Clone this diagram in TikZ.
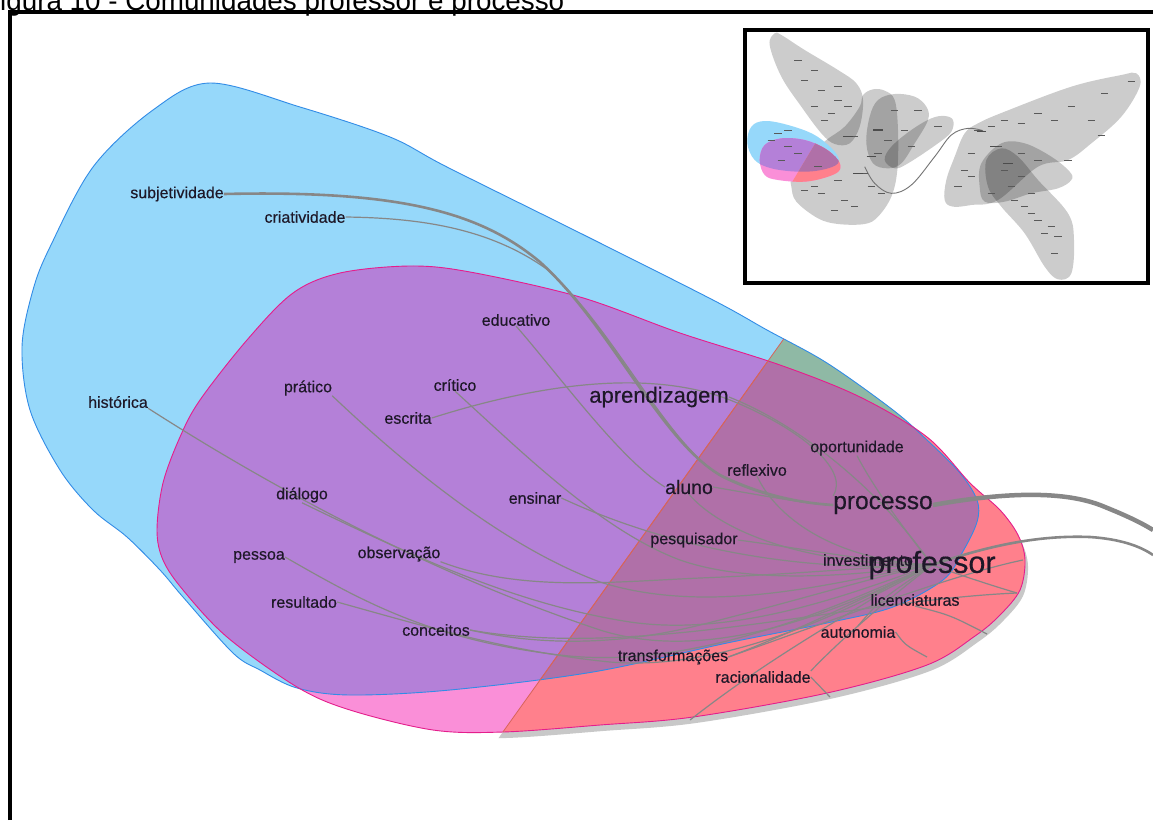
\documentclass[tikz,border=0pt]{standalone}
\usepackage{fontspec}
\setmainfont{Liberation Sans}
\newfontfamily\lblfont[FakeBold=0.4]{Liberation Sans}
\usetikzlibrary{calc}
\pgfdeclarelayer{bg}
\pgfdeclarelayer{edgelayer}
\pgfsetlayers{bg,edgelayer,main}
\definecolor{bluef}{RGB}{150,216,250}
\definecolor{pinkf}{RGB}{250,143,216}
\definecolor{purpf}{RGB}{180,128,216}
\definecolor{redf}{RGB}{255,128,140}
\definecolor{mauvef}{RGB}{176,112,168}
\definecolor{greenf}{RGB}{143,185,165}
\definecolor{bluel}{RGB}{50,140,230}
\definecolor{pinkl}{RGB}{228,30,140}
\definecolor{redl}{RGB}{215,100,90}
\definecolor{edgec}{RGB}{135,135,135}
\definecolor{txtc}{RGB}{30,24,40}
\definecolor{shadowc}{RGB}{200,200,200}
\def\pathB{plot[smooth cycle,tension=0.55] coordinates{(210,83) (300,107) (390,137) (447,167) (580,233) (713,300) (767,330) (827,363) (893,410) (927,440) (960,473) (977,500) (977,522) (962,553) (943,580) (893,607) (827,623) (727,643) (593,672) (450,690) (350,695) (297,688) (260,670) (233,653) (183,597) (160,570) (127,537) (93,510) (60,470) (30,410) (22,347) (33,290) (50,247) (93,167) (153,110)}}
\def\pathP{plot[smooth cycle,tension=0.55] coordinates{(410,266) (470,272) (580,297) (680,333) (780,365) (860,397) (927,437) (970,483) (1000,510) (1018,535) (1025,560) (1020,590) (1000,615) (975,636) (927,665) (827,693) (693,717) (600,725) (503,732) (433,730) (350,710) (297,687) (227,637) (183,590) (163,560) (157,530) (163,483) (180,437) (200,400) (247,340) (293,293) (340,273)}}
\def\halfplane{(440,820)--(923,144)--(1153,144)--(1153,820)--cycle}
\begin{document}
\begin{tikzpicture}[x=1pt,y=-1pt,
  lbl/.style={inner sep=0pt,text=txtc,font=\lblfont\fontsize{16}{18}\selectfont},
  lblA/.style={lbl,font=\lblfont\fontsize{22}{24}\selectfont},
  lblB/.style={lbl,font=\lblfont\fontsize{19.5}{22}\selectfont},
  lblP/.style={lbl,font=\lblfont\fontsize{24.5}{27}\selectfont},
  lblQ/.style={lbl,font=\lblfont\fontsize{30.5}{33}\selectfont},
  edg/.style={draw=edgec,line width=1.2pt},
  edgmid/.style={draw=edgec,line width=2.6pt},
  edgthick/.style={draw=edgec,line width=4.5pt},
  framel/.style={line width=4pt,draw=black},
  blob/.style={fill=black,fill opacity=0.2},
  wordmark/.style={draw=black!65,line width=0.7pt}
]
\useasboundingbox (0,0) rectangle (1153,820);

% ---------- community shapes ----------
\begin{pgfonlayer}{bg}
\fill[white] (0,0) rectangle (1153,820);
\begin{scope}
  \clip \halfplane;
  \fill[shadowc,shift={(4,5)}] \pathB;
  \fill[shadowc,shift={(3,6)}] \pathP;
\end{scope}
\fill[bluef] \pathB;
\fill[pinkf] \pathP;
\begin{scope}
  \clip \pathB;
  \fill[purpf] \pathP;
\end{scope}
\begin{scope}
  \clip \halfplane;
  \fill[greenf] \pathB;
  \fill[redf] \pathP;
  \clip \pathP;
  \fill[mauvef] \pathB;
\end{scope}
\draw[bluel,line width=0.9pt] \pathB;
\draw[pinkl,line width=0.9pt] \pathP;
\begin{scope}
  \clip \pathB;
  \draw[redl,line width=0.8pt] (440,820)--(923,144);
\end{scope}
\begin{scope}
  \clip \pathP;
  \draw[redl,line width=0.8pt] (440,820)--(923,144);
\end{scope}
\end{pgfonlayer}

% ---------- labels ----------
\node[lbl] (subj) at (177,194) {subjetividade};
\node[lbl] (criat) at (305,217) {criatividade};
\node[lbl] (hist) at (118,402) {histórica};
\node[lbl] (prat) at (308,388) {prático};
\node[lbl] (crit) at (455,385) {crítico};
\node[lbl] (escr) at (408,418) {escrita};
\node[lbl] (educ) at (516,320) {educativo};
\node[lblA] (apr) at (659,397) {aprendizagem};
\node[lblB] (aluno) at (689,487) {aluno};
\node[lbl] (ens) at (535,498) {ensinar};
\node[lbl] (dial) at (302,495) {diálogo};
\node[lbl] (pess) at (259,557) {pessoa};
\node[lbl] (obs) at (399,554) {observação};
\node[lbl] (res) at (304,602) {resultado};
\node[lbl] (conc) at (436,630) {conceitos};
\node[lbl] (refl) at (757,470) {reflexivo};
\node[lbl] (oport) at (857,448) {oportunidade};
\node[lblP] (proc) at (883,505) {processo};
\node[lbl] (pesq) at (694,540) {pesquisador};
\node[lbl] (inv) at (868,560) {investimento};
\node[lblQ] (prof) at (932,565) {professor};
\node[lbl] (lic) at (915,600) {licenciaturas};
\node[lbl] (auto) at (858,632) {autonomia};
\node[lbl] (trans) at (673,657) {transformações};
\node[lbl] (rac) at (763,677) {racionalidade};

\coordinate (procout) at (1153,530);
\coordinate (profout) at (1153,555);
\coordinate (e1) at (1023,560);
\coordinate (e2) at (1017,593);
\coordinate (e3) at (987,634);
\coordinate (e4) at (927,657);
\coordinate (e5) at (690,720);
\coordinate (e7) at (830,697);

% ---------- connectors ----------
\begin{pgfonlayer}{edgelayer}
\draw[edgmid] (subj.east) .. controls (400,190) and (480,212) .. (540,262) .. controls (610,325) and (660,440) .. (720,475) .. controls (760,495) and (800,503) .. (proc.west);
\draw[edg] (criat.east) .. controls (420,218) and (490,228) .. (548,270) .. controls (615,330) and (665,442) .. (722,477) .. controls (762,497) and (800,503) .. (proc.west);
\draw[edgthick] (proc.east) .. controls (1000,493) and (1060,490) .. (1100,505) .. controls (1125,515) and (1140,522) .. (procout);
\draw[edgmid] (prof.center) .. controls (990,545) and (1040,535) .. (1090,537) .. controls (1120,539) and (1140,546) .. (profout);
\draw[edg] (hist.south east) .. controls (260,480) and (420,570) .. (600,630) .. controls (720,668) and (860,600) .. (prof.center);
\draw[edg] (dial.south) .. controls (420,560) and (520,605) .. (630,622) .. controls (740,638) and (860,590) .. (prof.center);
\draw[edg] (obs.south east) .. controls (520,592) and (610,582) .. (700,578) .. controls (800,574) and (880,566) .. (prof.center);
\draw[edg] (pess.east) .. controls (360,600) and (430,640) .. (560,655) .. controls (700,672) and (850,600) .. (prof.center);
\draw[edg] (res.east) .. controls (420,625) and (510,652) .. (610,662) .. controls (730,672) and (860,605) .. (prof.center);
\draw[edg] (conc.east) .. controls (560,650) and (640,640) .. (700,625) .. controls (800,600) and (880,575) .. (prof.center);
\draw[edg] (prat.south east) .. controls (400,460) and (500,545) .. (600,582) .. controls (720,620) and (860,575) .. (prof.center);
\draw[edg] (crit.south) .. controls (520,450) and (600,530) .. (680,560) .. controls (760,588) and (880,572) .. (prof.center);
\draw[edg] (escr.east) .. controls (520,390) and (640,365) .. (730,400) .. controls (800,428) and (850,470) .. (proc.north west);
\draw[edg] (educ.south) .. controls (555,370) and (620,460) .. (aluno.west);
\draw[edg] (aluno.east) .. controls (760,495) and (800,503) .. (proc.west);
\draw[edg] (aluno.south) .. controls (720,530) and (800,565) .. (prof.center);
\draw[edg] (ens.east) .. controls (630,530) and (760,575) .. (prof.center);
\draw[edg] (apr.east) .. controls (800,425) and (880,490) .. (prof.center);
\draw[edg] (refl.south) .. controls (775,515) and (830,560) .. (prof.center);
\draw[edg] (oport.south) .. controls (875,490) and (905,530) .. (prof.center);
\draw[edg] (pesq.east) .. controls (800,548) and (870,562) .. (prof.center);
\draw[edg] (lic.west) .. controls (880,590) .. (prof.center);
\draw[edg] (auto.north) .. controls (880,600) .. (prof.center);
\draw[edg] (rac.north east) .. controls (850,630) and (900,590) .. (prof.center);
\draw[edg] (trans.east) .. controls (800,630) and (880,590) .. (prof.center);
\draw[edg] (trans.east) .. controls (820,625) and (950,575) .. (e1);
\draw[edg] (prof.center) .. controls (960,575) and (990,585) .. (e2);
\draw[edg] (conc.east) .. controls (640,660) and (850,600) .. (e2);
\draw[edg] (lic.south) .. controls (950,615) .. (e3);
\draw[edg] (auto.east) .. controls (905,645) .. (e4);
\draw[edg] (e5) .. controls (760,665) and (830,625) .. (lic.west);
\draw[edg] (rac.east) -- (e7);
\end{pgfonlayer}

% ---------- title and frame ----------
\node[anchor=base west,inner sep=0pt,font=\fontsize{27.8}{30}\selectfont] (title) at (0,10.5) {igura 10 - Comunidades professor e processo};
\draw[framel,line join=miter] (10,820) -- (10,12) -- (1153,12);

% ---------- inset overview ----------
\begin{scope}[shift={(738,20)},scale=1/3]
  \fill[blob] plot[smooth cycle,tension=0.6] coordinates{(110,40) (95,75) (130,170) (190,260) (250,340) (290,372) (335,370) (365,320) (375,240) (355,190) (300,150) (200,90) (130,45)};
  \fill[blob] plot[smooth cycle,tension=0.6] coordinates{(160,500) (175,545) (240,595) (300,612) (380,612) (420,590) (460,530) (478,450) (480,330) (470,240) (440,212) (405,208) (375,225) (365,260) (320,320) (265,360) (225,400) (185,440) (160,470)};
  \fill[blob] plot[smooth cycle,tension=0.6] coordinates{(395,290) (420,240) (470,222) (530,230) (565,260) (570,300) (530,370) (490,430) (450,445) (405,430) (385,370)};
  \fill[blob] plot[smooth cycle,tension=0.6] coordinates{(440,420) (470,445) (510,430) (600,370) (640,335) (645,300) (620,288) (580,295) (520,330) (460,380)};
  \fill[blob] plot[smooth cycle,tension=0.6] coordinates{(620,540) (645,560) (700,555) (780,540) (900,440) (990,420) (1060,370) (1150,290) (1205,200) (1195,160) (1150,165) (1000,200) (800,275) (720,310) (680,340) (650,410) (625,480)};
  \fill[blob] plot[smooth cycle,tension=0.6] coordinates{(730,430) (790,370) (860,370) (940,410) (995,455) (1000,480) (960,505) (880,520) (800,545) (740,545) (725,500)};
  \fill[blob] plot[smooth cycle,tension=0.6] coordinates{(745,420) (790,385) (840,410) (900,480) (990,580) (1008,660) (1000,760) (960,778) (920,740) (860,640) (790,560) (750,500)};
  \def\pathIB{plot[smooth cycle,tension=0.6] coordinates{(28,370) (40,320) (80,303) (150,315) (230,345) (290,395) (300,430) (250,450) (180,455) (100,445) (50,420)}}
  \def\pathIP{plot[smooth cycle,tension=0.6] coordinates{(65,420) (80,375) (130,355) (200,360) (260,385) (300,420) (305,450) (270,470) (200,485) (120,480) (80,465)}}
  \fill[bluef] \pathIB;
  \fill[pinkf] \pathIP;
  \begin{scope}
    \clip \pathIB;
    \fill[purpf] \pathIP;
  \end{scope}
  \begin{scope}
    \clip (250,340)--(160,490)--(400,490)--(400,340)--cycle;
    \fill[redf] \pathIP;
    \clip \pathIB;
    \fill[mauvef] \pathIP;
  \end{scope}
  \draw[black!55,line width=0.9pt] plot[smooth,tension=0.6] coordinates{(380,440) (410,490) (460,520) (520,495) (590,410) (640,345) (690,325) (735,332)};
  \foreach \p in {(200,180),(250,210),(300,240),(330,260),(230,260),(280,280),(260,300),(350,350),(420,330),(450,360),(500,330),(520,380),(540,270),(600,320),(420,400),(380,460),(300,480),(250,520),(320,540),(350,560),(290,570),(230,500),(200,510),(400,500),(430,520),(720,330),(760,320),(800,300),(850,310),(900,280),(950,300),(1000,260),(1100,220),(1180,185),(780,380),(850,400),(900,420),(700,400),(680,450),(660,500),(800,450),(850,470),(820,500),(880,520),(860,560),(900,600),(920,640),(960,650),(950,700),(100,360),(150,380),(180,400),(130,420),(240,440),(150,330),(120,340),(470,270),(180,120),(230,150),(300,200),(1090,345),(990,420),(1060,300),(700,470),(760,520),(830,540),(880,580),(940,620)}
    \draw[wordmark] \p ++(-11,0) -- ++(22,0);
  \foreach \p in {(360,460),(400,410),(730,335),(770,380),(810,430),(330,350),(420,330)}
    \draw[black!70,line width=1.4pt] \p ++(-14,0) -- ++(28,0);
\end{scope}
\draw[framel] (745,30) rectangle (1148,283);
\end{tikzpicture}
\end{document}
